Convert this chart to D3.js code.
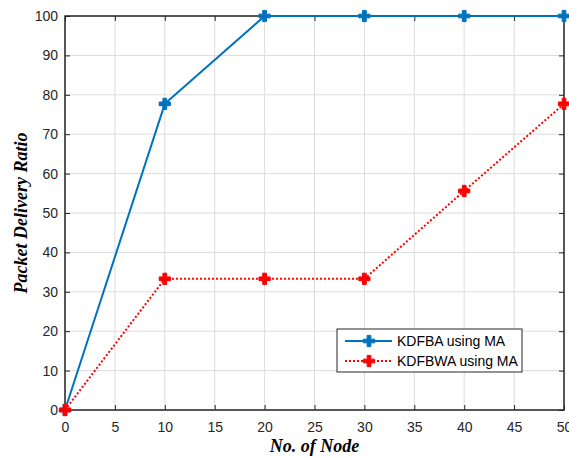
<!DOCTYPE html>
<html>
<head>
<meta charset="utf-8">
<script src="https://cdn.jsdelivr.net/npm/d3@7"></script>
<style>
  body { margin: 0; background: #fff; }
  svg { display: block; }
</style>
</head>
<body>
<div id="chart"></div>
<script>
// chart data
const nodes = [0, 10, 20, 30, 40, 50];
const kdfba = [0, 77.7, 100, 100, 100, 100];
const kdfbwa = [0, 33.3, 33.3, 33.3, 55.6, 77.7];
const xTicks = [0, 5, 10, 15, 20, 25, 30, 35, 40, 45, 50];
const yTicks = [0, 10, 20, 30, 40, 50, 60, 70, 80, 90, 100];
const seriesNames = ["KDFBA using MA", "KDFBWA using MA"];

const width = 569;
const height = 460;
const margin = { top: 16, right: 5, bottom: 50, left: 65 };

const svg = d3.select("#chart")
    .append("svg")
    .attr("width", width)
    .attr("height", height);

const xScale = d3.scaleLinear()
    .domain([0, 50])
    .range([margin.left, width - margin.right]);

const yScale = d3.scaleLinear()
    .domain([0, 100])
    .range([height - margin.bottom, margin.top]);

const x0 = xScale.range()[0], x1 = xScale.range()[1];
const y0 = yScale.range()[0], y1 = yScale.range()[1];

// grid
svg.append("g")
    .selectAll("line")
    .data(xTicks)
    .enter().append("line")
    .attr("x1", d => xScale(d)).attr("x2", d => xScale(d))
    .attr("y1", y0).attr("y2", y1)
    .attr("stroke", "#dcdcdc").attr("stroke-width", 1);

svg.append("g")
    .selectAll("line")
    .data(yTicks)
    .enter().append("line")
    .attr("x1", x0).attr("x2", x1)
    .attr("y1", d => yScale(d)).attr("y2", d => yScale(d))
    .attr("stroke", "#dcdcdc").attr("stroke-width", 1);

// axes (ticks inside, like a boxed plot)
const tickStyle = g => {
    g.select(".domain").remove();
    g.selectAll(".tick line").attr("stroke", "#262626").attr("stroke-width", 1);
    g.selectAll(".tick text")
        .attr("fill", "#262626")
        .style("font-family", "Arial, 'Liberation Sans', sans-serif")
        .style("font-size", "14px");
};

svg.append("g")
    .attr("transform", `translate(0,${y0})`)
    .call(d3.axisBottom(xScale).tickValues(xTicks).tickSize(-5).tickPadding(12))
    .call(tickStyle);

svg.append("g")
    .attr("transform", `translate(0,${y1})`)
    .call(d3.axisTop(xScale).tickValues(xTicks).tickSize(-5).tickFormat(""))
    .call(tickStyle);

svg.append("g")
    .attr("transform", `translate(${x0},0)`)
    .call(d3.axisLeft(yScale).tickValues(yTicks).tickSize(-5).tickPadding(7))
    .call(tickStyle);

svg.append("g")
    .attr("transform", `translate(${x1},0)`)
    .call(d3.axisRight(yScale).tickValues(yTicks).tickSize(-5).tickFormat(""))
    .call(tickStyle);

// box
svg.append("rect")
    .attr("x", x0).attr("y", y1)
    .attr("width", x1 - x0).attr("height", y0 - y1)
    .attr("fill", "none")
    .attr("stroke", "#262626")
    .attr("stroke-width", 1.5);

// lines
const line = d3.line()
    .x((d, i) => xScale(nodes[i]))
    .y(d => yScale(d));

const plusPath = d3.symbol().type(d3.symbolCross).size(70);

function drawSeries(values, color, dash) {
    svg.append("path")
        .datum(values)
        .attr("d", line)
        .attr("fill", "none")
        .attr("stroke", color)
        .attr("stroke-width", 2)
        .attr("stroke-dasharray", dash);

    svg.append("g")
        .selectAll("path")
        .data(values)
        .enter().append("path")
        .attr("d", plusPath)
        .attr("transform", (d, i) => `translate(${xScale(nodes[i])},${yScale(d)})`)
        .attr("fill", color)
        .attr("stroke", color)
        .attr("stroke-width", 1);
}

drawSeries(kdfba, "#0072bd", null);
drawSeries(kdfbwa, "#ff0000", "2,2");

// legend
const legend = svg.append("g").attr("transform", "translate(337,329)");
legend.append("rect")
    .attr("width", 185).attr("height", 43)
    .attr("fill", "#fff")
    .attr("stroke", "#262626").attr("stroke-width", 1);

const legendColors = ["#0072bd", "#ff0000"];
const legendDash = [null, "2,2"];
seriesNames.forEach((name, i) => {
    const ly = 12 + i * 20;
    legend.append("line")
        .attr("x1", 8).attr("x2", 55)
        .attr("y1", ly).attr("y2", ly)
        .attr("stroke", legendColors[i])
        .attr("stroke-width", 2)
        .attr("stroke-dasharray", legendDash[i]);
    legend.append("path")
        .attr("d", plusPath)
        .attr("transform", `translate(32,${ly})`)
        .attr("fill", legendColors[i])
        .attr("stroke", legendColors[i]);
    legend.append("text")
        .attr("x", 60).attr("y", ly)
        .attr("dy", "0.35em")
        .attr("fill", "#000")
        .style("font-family", "Arial, 'Liberation Sans', sans-serif")
        .style("font-size", "14px")
        .text(name);
});

// axis titles
svg.append("text")
    .attr("x", (x0 + x1) / 2)
    .attr("y", 452)
    .attr("text-anchor", "middle")
    .style("font-family", "'Times New Roman', 'Liberation Serif', serif")
    .style("font-size", "18px")
    .style("font-weight", "bold")
    .style("font-style", "italic")
    .text("No. of Node");

svg.append("text")
    .attr("transform", "rotate(-90)")
    .attr("x", -(y0 + y1) / 2)
    .attr("y", 27)
    .attr("text-anchor", "middle")
    .style("font-family", "'Times New Roman', 'Liberation Serif', serif")
    .style("font-size", "18px")
    .style("font-weight", "bold")
    .style("font-style", "italic")
    .text("Packet Delivery Ratio");
</script>
</body>
</html>
